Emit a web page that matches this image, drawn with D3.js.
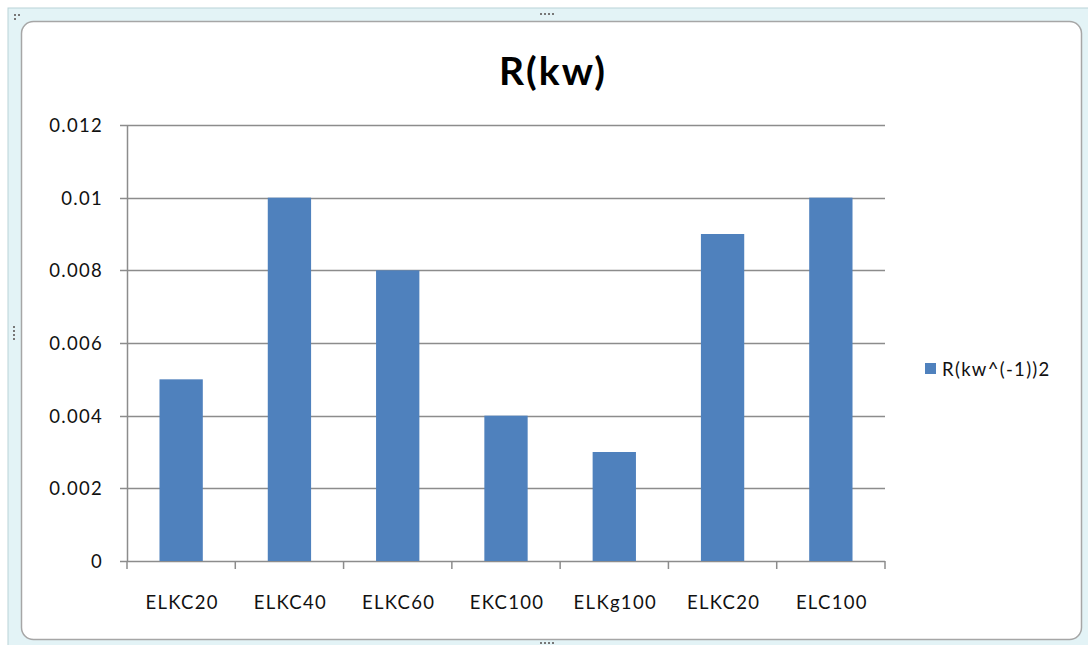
<!DOCTYPE html>
<html><head><meta charset="utf-8">
<script src="https://cdn.jsdelivr.net/npm/d3@7"></script>
<style>body{margin:0;background:#fff;}svg{display:block;font-family:Lato,"Open Sans",sans-serif;}</style>
</head><body>
<svg id="c" width="1088" height="645"></svg>
<script>
const categories = ["ELKC20","ELKC40","ELKC60","EKC100","ELKg100","ELKC20","ELC100"];
const values = [0.005,0.010,0.008,0.004,0.003,0.009,0.010];
const yTicks = [0,0.002,0.004,0.006,0.008,0.010,0.012];
const yTickLabels = ["0","0.002","0.004","0.006","0.008","0.01","0.012"];
const seriesName = "R(kw^(-1))2";
const title = "R(kw)";

const svg = d3.select("#c");
// outer frame
svg.append("rect").attr("x",8).attr("y",8).attr("width",1090).attr("height",645).attr("fill","#e3f3f6").attr("stroke","#b9d3d8");
svg.append("rect").attr("x",21.5).attr("y",21.5).attr("width",1060).attr("height",618).attr("rx",12).attr("fill","#fff").attr("stroke","#a6a6a6").attr("stroke-width",1.5);
// handles
[[14,14],[18,14],[14,18]].forEach(p=>svg.append("rect").attr("x",p[0]).attr("y",p[1]).attr("width",2).attr("height",2).attr("fill","#777"));
[540,544,548,552].forEach(x=>svg.append("rect").attr("x",x).attr("y",13).attr("width",2).attr("height",2).attr("fill","#777"));
[540,544,548,552].forEach(x=>svg.append("rect").attr("x",x).attr("y",642).attr("width",2).attr("height",2).attr("fill","#777"));
[326,330,334,338].forEach(y=>svg.append("rect").attr("x",13).attr("y",y).attr("width",2).attr("height",2).attr("fill","#777"));

const x0=127, x1=885, yTop=125, yBot=561;
const x = d3.scaleBand().domain(d3.range(categories.length)).range([x0,x1]).paddingInner(0.6).paddingOuter(0.3);
const y = d3.scaleLinear().domain([0,0.012]).range([yBot,yTop]);

// gridlines
svg.append("g").selectAll("line").data(yTicks).join("line")
  .attr("x1",x0-7).attr("x2",x1).attr("y1",d=>Math.round(y(d))+0.5).attr("y2",d=>Math.round(y(d))+0.5)
  .attr("stroke","#8c8c8c").attr("stroke-width",1.5);

// bars
svg.append("g").selectAll("rect").data(values).join("rect")
  .attr("x",(d,i)=>x(i)).attr("width",x.bandwidth())
  .attr("y",d=>y(d)).attr("height",d=>yBot-y(d)).attr("fill","#4f81bd");

// y axis line
svg.append("line").attr("x1",x0+0.5).attr("x2",x0+0.5).attr("y1",yTop).attr("y2",yBot).attr("stroke","#8c8c8c").attr("stroke-width",1.5);
// x axis ticks at boundaries
const step=(x1-x0)/categories.length;
svg.append("g").selectAll("line").data(d3.range(categories.length+1)).join("line")
  .attr("x1",i=>x0+i*step).attr("x2",i=>x0+i*step).attr("y1",yBot).attr("y2",yBot+8)
  .attr("stroke","#8c8c8c").attr("stroke-width",1.5);

// y labels
svg.append("g").selectAll("text").data(yTicks).join("text")
  .attr("x",103).attr("y",d=>y(d)+7).attr("text-anchor","end").attr("font-size",18.5).attr("letter-spacing",1.3).attr("fill","#111")
  .text((d,i)=>yTickLabels[i]);

// x labels
svg.append("g").selectAll("text").data(categories).join("text")
  .attr("x",(d,i)=>x(i)+x.bandwidth()/2+1).attr("y",609).attr("text-anchor","middle").attr("font-size",18.5).attr("letter-spacing",1.3).attr("fill","#111")
  .text(d=>d);

// title
svg.append("text").attr("x",553).attr("y",85).attr("text-anchor","middle").attr("font-size",39).attr("letter-spacing",2).attr("font-weight","bold").text(title);

// legend
svg.append("rect").attr("x",925).attr("y",363).attr("width",11).attr("height",11).attr("fill","#4f81bd");
svg.append("text").attr("x",942).attr("y",376).attr("font-size",18.5).attr("letter-spacing",1.3).attr("fill","#111").text(seriesName);
</script>
</body></html>
